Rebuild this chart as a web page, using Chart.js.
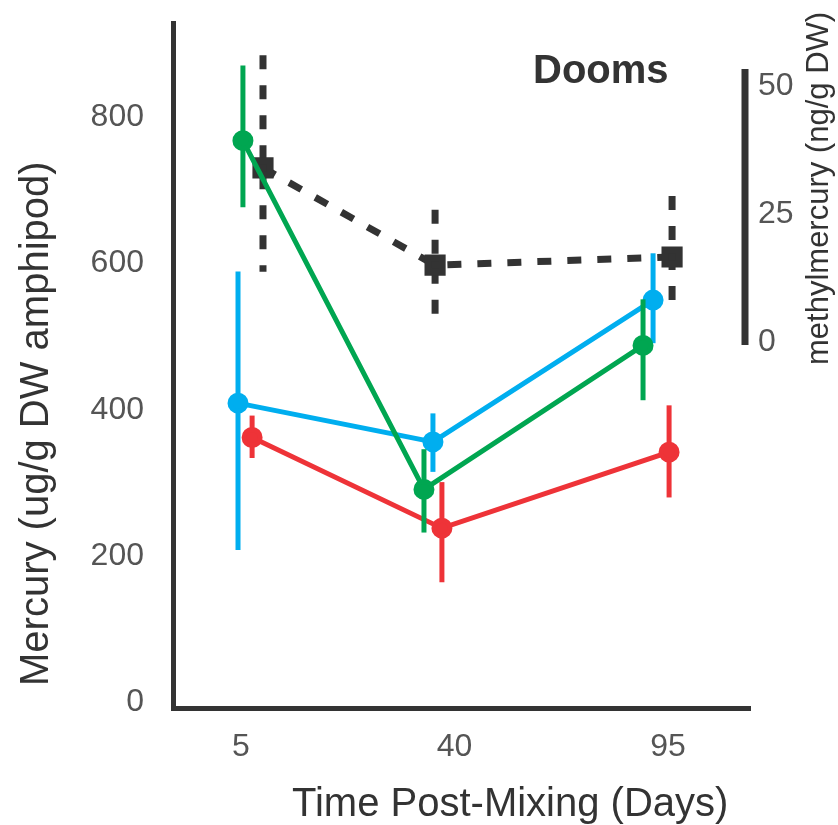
<!DOCTYPE html>
<html>
<head>
<meta charset="utf-8">
<script src="https://cdn.jsdelivr.net/npm/chart.js@4.4.0/dist/chart.umd.min.js"></script>
<style>
html, body { margin: 0; padding: 0; background: #fff; }
#wrap { width: 838px; height: 825px; }
</style>
</head>
<body>
<div id="wrap"><canvas id="chart"></canvas></div>
<script>
// time points, days post-mixing
const days = ['5', '40', '95'];
const mercuryTicks = [0, 200, 400, 600, 800];
const methylTicks = [0, 25, 50];

// total mercury (ug/g DW amphipod), mean and error range
const greenMean = [768, 291, 488];
const greenLow = [677, 232, 413];
const greenHigh = [871, 346, 551];

const blueMean = [409, 356, 550];
const blueLow = [208, 315, 491];
const blueHigh = [589, 395, 614];

const redMean = [362, 238, 342];
const redLow = [334, 164, 280];
const redHigh = [392, 301, 406];

// methylmercury (ng/g DW), right axis
const methylMean = [34.0, 15.0, 16.6];
const methylLow = [13.7, 5.3, 8.2];
const methylHigh = [56.0, 25.8, 28.5];

// horizontal dodge of each series around its time point (in category units)
const dodgeGreen = [0.009, -0.143, -0.117];
const dodgeBlue = [-0.014, -0.101, -0.070];
const dodgeRed = [0.052, -0.059, 0.005];
const dodgeMethyl = [0.103, -0.091, 0.019];

const DARK = '#333333';
const TICK = '#555555';

function points(values, dodge) {
    return values.map((v, i) => ({ x: i + 1 + dodge[i], y: v }));
}

const errors = [
    { low: greenLow, high: greenHigh, width: 5 },
    { low: blueLow, high: blueHigh, width: 5 },
    { low: redLow, high: redHigh, width: 5 },
    { low: methylLow, high: methylHigh, width: 7, dash: [14, 16] }
];

// drop the half-label padding Chart.js reserves so the plot area is fixed
function noPad(scale) {
    scale.paddingTop = 0;
    scale.paddingBottom = 0;
    scale.paddingLeft = 0;
    scale.paddingRight = 0;
}

const extras = {
    id: 'extras',
    beforeDatasetDraw(chart, args) {
        const ds = chart.data.datasets[args.index];
        const err = errors[args.index];
        const scale = chart.scales[ds.yAxisID];
        const ctx = chart.ctx;
        ctx.save();
        ctx.strokeStyle = ds.borderColor;
        ctx.lineWidth = err.width;
        ctx.setLineDash(err.dash || []);
        args.meta.data.forEach((pt, i) => {
            ctx.beginPath();
            ctx.moveTo(pt.x, scale.getPixelForValue(err.high[i]));
            ctx.lineTo(pt.x, scale.getPixelForValue(err.low[i]));
            ctx.stroke();
        });
        ctx.restore();
    },
    afterDraw(chart) {
        const ctx = chart.ctx;
        const y2 = chart.scales.y2;
        ctx.save();
        // short right-hand axis line for methylmercury
        ctx.strokeStyle = DARK;
        ctx.lineWidth = 7;
        ctx.beginPath();
        ctx.moveTo(y2.left - 5, y2.getPixelForValue(53.3));
        ctx.lineTo(y2.left - 5, y2.getPixelForValue(-0.6));
        ctx.stroke();

        ctx.fillStyle = DARK;
        ctx.textBaseline = 'alphabetic';
        ctx.textAlign = 'left';
        ctx.font = 'bold 40px "Liberation Sans", Arial, sans-serif';
        ctx.fillText('Dooms', 533, 83);

        ctx.font = '40px "Liberation Sans", Arial, sans-serif';
        ctx.fillText('Time Post-Mixing (Days)', 292, 816);

        ctx.save();
        ctx.translate(48, 686);
        ctx.rotate(-Math.PI / 2);
        ctx.fillText('Mercury (ug/g DW amphipod)', 0, 0);
        ctx.restore();

        ctx.save();
        ctx.font = '31px "Liberation Sans", Arial, sans-serif';
        ctx.translate(828, 365);
        ctx.rotate(-Math.PI / 2);
        ctx.fillText('methylmercury (ng/g DW)', 0, 0);
        ctx.restore();

        ctx.restore();
    }
};

const tickFont = { family: '"Liberation Sans", Arial, sans-serif', size: 32 };

new Chart(document.getElementById('chart'), {
    type: 'line',
    data: {
        datasets: [
            {
                data: points(greenMean, dodgeGreen),
                yAxisID: 'y',
                borderColor: '#00a651',
                backgroundColor: '#00a651',
                borderWidth: 5,
                pointRadius: 8,
                order: 1
            },
            {
                data: points(blueMean, dodgeBlue),
                yAxisID: 'y',
                borderColor: '#00aeef',
                backgroundColor: '#00aeef',
                borderWidth: 5,
                pointRadius: 8,
                order: 2
            },
            {
                data: points(redMean, dodgeRed),
                yAxisID: 'y',
                borderColor: '#ee3338',
                backgroundColor: '#ee3338',
                borderWidth: 5,
                pointRadius: 8,
                order: 3
            },
            {
                data: points(methylMean, dodgeMethyl),
                yAxisID: 'y2',
                borderColor: DARK,
                backgroundColor: DARK,
                borderWidth: 7,
                borderDash: [14, 16],
                pointStyle: 'rect',
                pointRadius: 10,
                order: 4
            }
        ]
    },
    options: {
        responsive: true,
        maintainAspectRatio: false,
        animation: false,
        layout: { padding: { top: 23, left: 0, right: 0, bottom: 0 } },
        plugins: {
            legend: { display: false },
            tooltip: { enabled: false }
        },
        elements: {
            line: { tension: 0 },
            point: { borderWidth: 0 }
        },
        scales: {
            x: {
                type: 'linear',
                min: 0.6815,
                max: 3.384,
                grid: { display: false, drawTicks: false },
                border: { display: true, color: DARK, width: 5 },
                afterBuildTicks: scale => { scale.ticks = days.map((d, i) => ({ value: i + 1 })); },
                afterFit: scale => { scale.height = 117; noPad(scale); },
                ticks: {
                    font: tickFont,
                    color: TICK,
                    padding: 20,
                    maxRotation: 0,
                    callback: value => days[value - 1]
                }
            },
            y: {
                position: 'left',
                min: -8,
                max: 929,
                grid: { display: false, drawTicks: false },
                border: { display: true, color: DARK, width: 5 },
                afterBuildTicks: scale => { scale.ticks = mercuryTicks.map(v => ({ value: v })); },
                afterFit: scale => { scale.width = 173; noPad(scale); },
                ticks: { font: tickFont, color: TICK, padding: 29 }
            },
            y2: {
                position: 'right',
                min: -71.5,
                max: 62.3,
                grid: { display: false, drawTicks: false },
                border: { display: false },
                afterBuildTicks: scale => { scale.ticks = methylTicks.map(v => ({ value: v })); },
                afterFit: scale => { scale.width = 88; noPad(scale); },
                ticks: { font: tickFont, color: TICK, padding: 8 }
            }
        }
    },
    plugins: [extras]
});
</script>
</body>
</html>
